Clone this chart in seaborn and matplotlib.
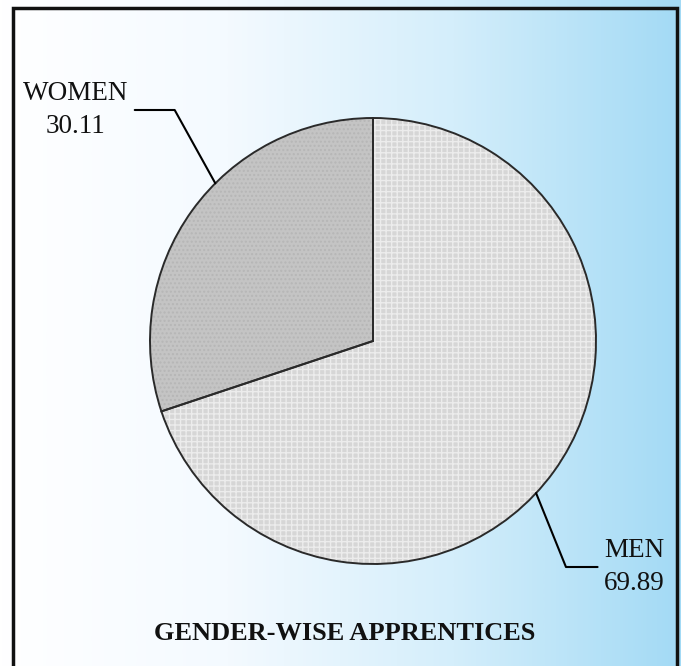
import numpy as np
import matplotlib
matplotlib.use("Agg")
import matplotlib.pyplot as plt
from matplotlib.colors import LinearSegmentedColormap
from matplotlib.patches import Rectangle
import seaborn as sns

# data
labels = ["WOMEN", "MEN"]
values = [30.11, 69.89]
slice_colors = ["#c4c4c4", "#d6d6d6"]
slice_hatches = ["....", "+++"]
hatch_colors = ["#b6b6b6", "#ececec"]
title = "GENDER-WISE APPRENTICES"

sns.set_theme(style="white")
plt.rcParams["font.family"] = ["Liberation Serif", "DejaVu Serif"]
plt.rcParams["hatch.linewidth"] = 1.0

W, H, DPI = 681, 666, 100
R_PX = 223.0          # pie radius in pixels
CX, CY = 373.0, 341.0  # pie centre (px from left / top)

fig = plt.figure(figsize=(W / DPI, H / DPI), dpi=DPI)
ax = fig.add_axes([0, 0, 1, 1])
x0, x1 = -CX / R_PX, (W - CX) / R_PX
y0, y1 = -(H - CY) / R_PX, CY / R_PX

# background: white -> light blue, left to right
grad_cmap = LinearSegmentedColormap.from_list(
    "bg", ["#ffffff", "#f4faff", "#d4eefb", "#a3daf5"], N=256)
grad = np.linspace(0, 1, 512).reshape(1, -1)
ax.imshow(grad, cmap=grad_cmap, extent=[x0, x1, y0, y1], aspect="auto", zorder=0)

# textured fill first, outlines on top
wedges, _ = ax.pie(values, colors=slice_colors, startangle=90, counterclock=True,
                   radius=1, wedgeprops=dict(linewidth=0))
for w, h, hc in zip(wedges, slice_hatches, hatch_colors):
    w.set_edgecolor(hc)
    w.set_hatch(h)
    w.set_linewidth(0)
    w.set_zorder(2)
outline, _ = ax.pie(values, startangle=90, counterclock=True, radius=1,
                    wedgeprops=dict(fill=False, edgecolor="#2a2a2a", linewidth=1.4))
for w in outline:
    w.set_zorder(3)

ax.set_xlim(x0, x1)
ax.set_ylim(y0, y1)
ax.set_aspect("auto")
ax.axis("off")

# leader-line labels
label_angles = [135, -43]
text_pos = [((76 - CX) / R_PX, (CY - 110) / R_PX),
            ((634 - CX) / R_PX, (CY - 567) / R_PX)]
leader_angle = [119, 112]
for lab, val, ang, tp, la in zip(labels, values, label_angles, text_pos, leader_angle):
    t = np.deg2rad(ang)
    ax.annotate(f"{lab}\n{val:.2f}", xy=(np.cos(t), np.sin(t)), xytext=tp,
                ha="center", va="center", fontsize=19.5, color="#111111",
                linespacing=1.4, zorder=4,
                arrowprops=dict(arrowstyle="-", color="black", lw=1.5,
                                shrinkB=0,
                                connectionstyle=f"angle,angleA=0,angleB={la},rad=0"))

ax.text((345 - CX) / R_PX, (CY - 633) / R_PX, title, ha="center", va="center",
        fontsize=19, fontweight="bold", color="#111111", zorder=4)

# frame
fig.patches.append(Rectangle((13 / W, -0.05), (677 - 13) / W, 1.05 - 8 / H,
                             transform=fig.transFigure, fill=False,
                             edgecolor="#111111", linewidth=2.5, zorder=5))

fig.savefig("out.png", dpi=DPI)
